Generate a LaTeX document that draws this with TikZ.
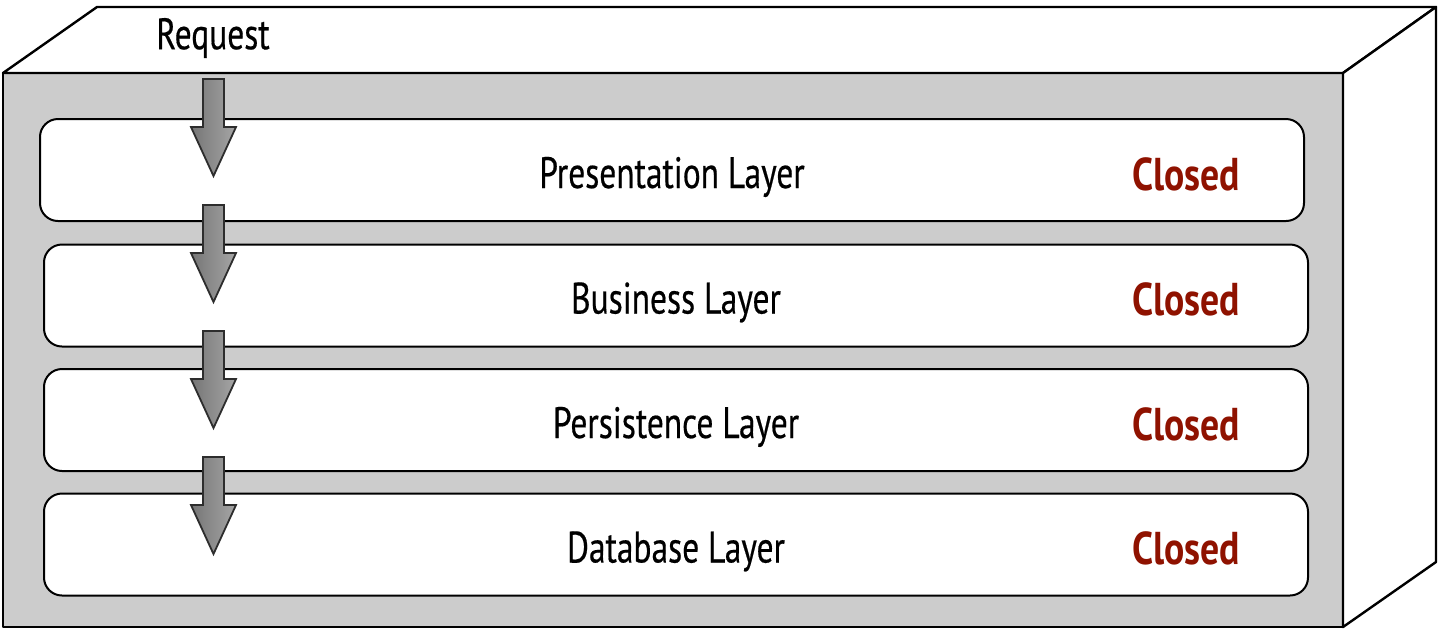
\documentclass[tikz,border=0pt]{standalone}
\usepackage{fontspec}
\setmainfont[FakeStretch=0.76, FakeBold=0.4]{PT Sans}
\newfontfamily\closedfont[FakeStretch=0.82]{PT Sans Bold}
\usetikzlibrary{calc}

\definecolor{facegray}{RGB}{204,204,204}
\definecolor{closedred}{RGB}{143,18,0}
\definecolor{arrowdark}{RGB}{118,118,118}
\definecolor{arrowlight}{RGB}{165,165,165}
\definecolor{arrowline}{RGB}{45,45,45}

\tikzset{
  face/.style={draw=black, line width=1.2pt, line join=round},
  layer/.style={draw=black, fill=white, line width=1pt, rounded corners=9pt,
    minimum width=632pt, minimum height=51pt, text height=18pt, text depth=0pt,
    font=\fontsize{22}{26}\selectfont},
  closed/.style={text=closedred, text height=20pt, text depth=0pt,
    font=\fontsize{23}{26}\closedfont},
  flow/.style={draw=arrowline, line width=0.9pt, left color=arrowdark,
    right color=arrowlight, line join=miter},
}

\begin{document}
\begin{tikzpicture}[x=0.5pt,y=-0.5pt]
  \useasboundingbox (0,0) rectangle (1441,629);
  % the box
  \coordinate (ftl) at (3,73);
  \coordinate (ftr) at (1343,73);
  \coordinate (fbr) at (1343,627);
  \coordinate (btl) at (97,7);
  \coordinate (btr) at (1436,7);
  \coordinate (bbr) at (1436,562);
  \draw[face, fill=facegray] (ftl) rectangle (fbr);
  \draw[face, fill=white] (ftl) -- (btl) -- (btr) -- (ftr) -- cycle;
  \draw[face, fill=white] (ftr) -- (btr) -- (bbr) -- (fbr) -- cycle;

  % layers
  \node[layer] (pres) at (672,170) {Presentation Layer};
  \node[layer] (bus) at (676,295.5) {Business Layer};
  \node[layer] (pers) at (676,420) {Persistence Layer};
  \node[layer] (db) at (676,544.5) {Database Layer};
  \coordinate (closedx) at (1186,0);
  \foreach \l in {pres,bus,pers,db}
    \node[closed] (\l-closed) at (\l.center -| closedx) {Closed};

  % request flow
  \node[font=\fontsize{22}{26}\selectfont] (req) at (213,38) {Request};
  \foreach \y in {79,205,331,457}
    \path[flow] (203,\y) -- (224,\y) -- (224,\y+48) -- (236,\y+48)
      -- (213.5,\y+97) -- (191,\y+48) -- (203,\y+48) -- cycle;
\end{tikzpicture}
\end{document}
